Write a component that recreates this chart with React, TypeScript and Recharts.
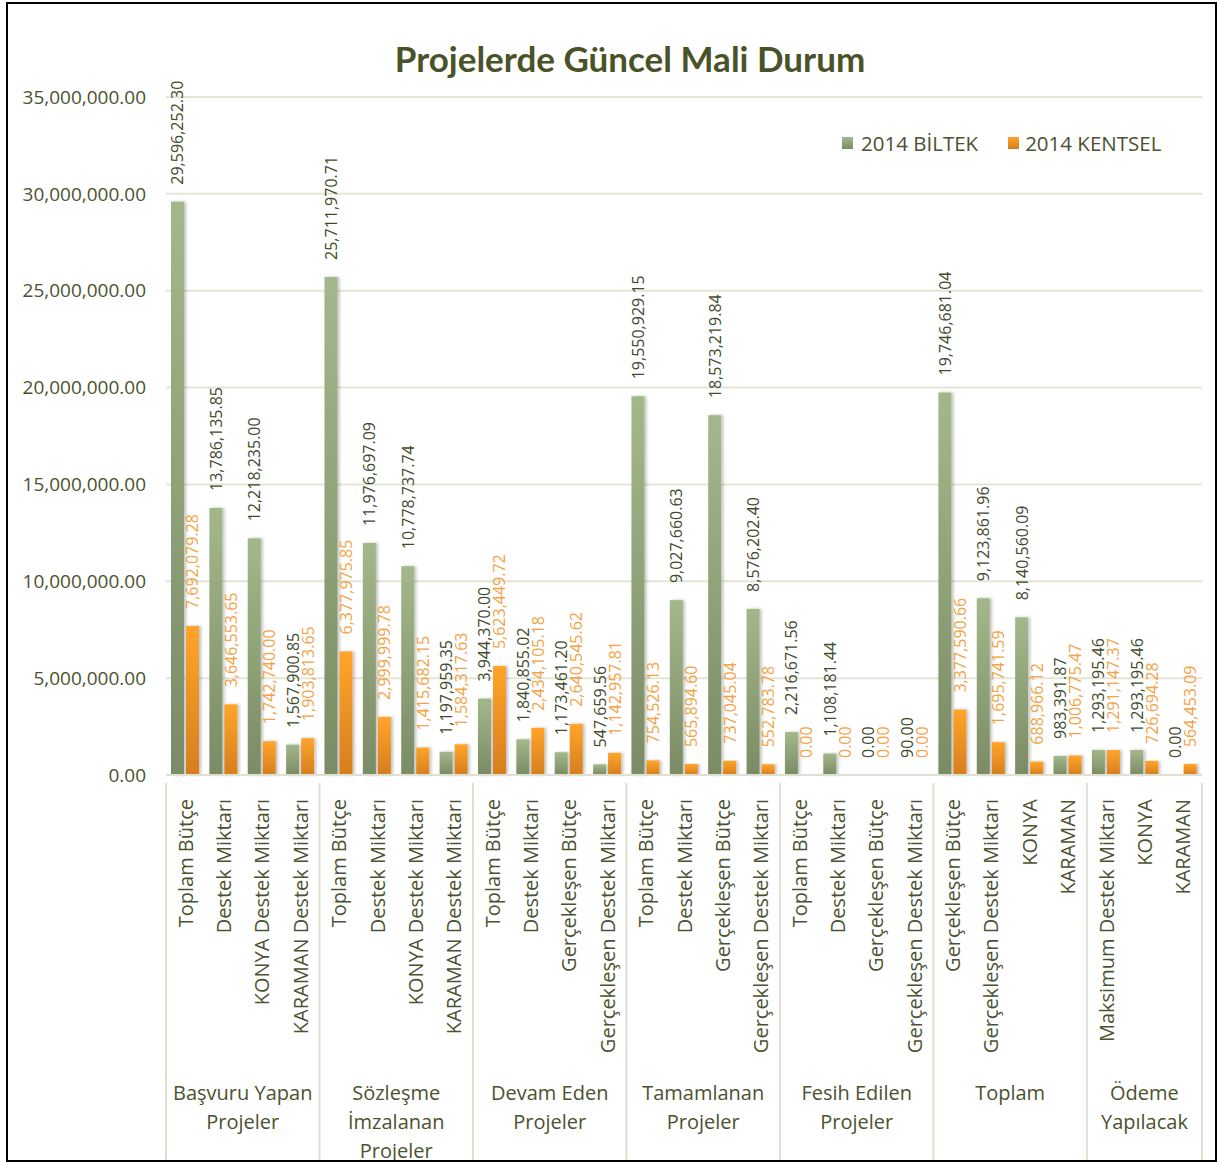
import React from "react";
import { BarChart, Bar, XAxis, YAxis, CartesianGrid } from "recharts";

const categories = [
  "Toplam Bütçe", "Destek Miktarı", "KONYA Destek Miktarı", "KARAMAN Destek Miktarı",
  "Toplam Bütçe", "Destek Miktarı", "KONYA Destek Miktarı", "KARAMAN Destek Miktarı",
  "Toplam Bütçe", "Destek Miktarı", "Gerçekleşen Bütçe", "Gerçekleşen Destek Miktarı",
  "Toplam Bütçe", "Destek Miktarı", "Gerçekleşen Bütçe", "Gerçekleşen Destek Miktarı",
  "Toplam Bütçe", "Destek Miktarı", "Gerçekleşen Bütçe", "Gerçekleşen Destek Miktarı",
  "Gerçekleşen Bütçe", "Gerçekleşen Destek Miktarı", "KONYA", "KARAMAN",
  "Maksimum Destek Miktarı", "KONYA", "KARAMAN",
];

const groupNames = [
  "Başvuru Yapan\nProjeler",
  "Sözleşme\nİmzalanan\nProjeler",
  "Devam Eden\nProjeler",
  "Tamamlanan\nProjeler",
  "Fesih Edilen\nProjeler",
  "Toplam",
  "Ödeme\nYapılacak",
];
const groupSizes = [4, 4, 4, 4, 4, 4, 3];

const biltek = [
  29596252.3, 13786135.85, 12218235.0, 1567900.85,
  25711970.71, 11976697.09, 10778737.74, 1197959.35,
  3944370.0, 1840855.02, 1173461.2, 547659.56,
  19550929.15, 9027660.63, 18573219.84, 8576202.4,
  2216671.56, 1108181.44, 0.0, 90.0,
  19746681.04, 9123861.96, 8140560.09, 983391.87,
  1293195.46, 1293195.46, 0.0,
];
const kentsel = [
  7692079.28, 3646553.65, 1742740.0, 1903813.65,
  6377975.85, 2999999.78, 1415682.15, 1584317.63,
  5623449.72, 2434105.18, 2640545.62, 1142957.81,
  754526.13, 565894.6, 737045.04, 552783.78,
  0.0, 0.0, 0.0, 0.0,
  3377590.66, 1695741.59, 688966.12, 1006775.47,
  1291147.37, 726694.28, 564453.09,
];
const yTicks = [0, 5000000, 10000000, 15000000, 20000000, 25000000, 30000000, 35000000];

const seriesNames = ["2014 BİLTEK", "2014 KENTSEL"];

const data = categories.map((c, i) => ({
  key: `c${i}`,
  cat: c,
  biltek: biltek[i],
  kentsel: kentsel[i],
}));

const groupStart: Record<number, number> = {};
{
  let idx = 0;
  groupSizes.forEach((n, g) => {
    groupStart[idx] = g;
    idx += n;
  });
}

const W = 1217;
const H = 1162;
const M = { top: 97, right: 15, left: 0, bottom: 0 };
const Y_W = 166;
const X_H = 387;
const BAND = (W - M.left - M.right - Y_W) / categories.length;

const FONT = "'Open Sans', 'DejaVu Sans', sans-serif";
const TXT = "#4B5230";
const LINE = "#DEE1CF";

const fmt = (v: number) =>
  v.toLocaleString("en-US", { minimumFractionDigits: 2, maximumFractionDigits: 2 });

const makeShape = (fillId: string, color: string, key: "biltek" | "kentsel") => (props: any) => {
  const x = Number(props.x);
  const y = Number(props.y);
  const width = Number(props.width);
  const height = Math.max(0, Number(props.height) || 0);
  const value = props.payload ? props.payload[key] : props.value;
  const cx = x + width / 2;
  const ty = y - 17;
  return (
    <g>
      {height > 0 && (
        <rect x={x} y={y} width={width} height={height} fill={`url(#${fillId})`} filter="url(#shadow)" />
      )}
      <text
        x={cx}
        y={ty}
        transform={`rotate(-90 ${cx} ${ty})`}
        textAnchor="start"
        dominantBaseline="central"
        fill={color}
        fontSize={16}
        fontFamily={FONT}
      >
        {fmt(Number(value))}
      </text>
    </g>
  );
};

const CatTick = (props: any) => {
  const { x, y, payload } = props;
  const index: number = payload?.index ?? props.index;
  const label = categories[index];
  const top = Number(y) + 16;
  const g = groupStart[index];
  const leftEdge = Number(x) - BAND / 2;
  const isLast = index === categories.length - 1;
  let groupEl = null;
  if (g !== undefined) {
    const gc = leftEdge + (groupSizes[g] * BAND) / 2;
    const lines = groupNames[g].split("\n");
    groupEl = (
      <g>
        {lines.map((ln, i) => (
          <text
            key={i}
            x={gc}
            y={1092 + i * 29}
            textAnchor="middle"
            dominantBaseline="central"
            fill={TXT}
            fontSize={20}
            fontFamily={FONT}
          >
            {ln}
          </text>
        ))}
      </g>
    );
  }
  return (
    <g>
      {g !== undefined && (
        <line x1={leftEdge} y1={Number(y)} x2={leftEdge} y2={H} stroke={LINE} strokeWidth={2} />
      )}
      {isLast && (
        <line x1={Number(x) + BAND / 2} y1={Number(y)} x2={Number(x) + BAND / 2} y2={H} stroke={LINE} strokeWidth={2} />
      )}
      <text
        x={Number(x)}
        y={top}
        transform={`rotate(-90 ${Number(x)} ${top})`}
        textAnchor="end"
        dominantBaseline="central"
        fill={TXT}
        fontSize={20}
        fontFamily={FONT}
      >
        {label}
      </text>
      {groupEl}
    </g>
  );
};

export default function App() {
  return (
    <div style={{ position: "absolute", left: 0, top: 0, width: W, height: H, background: "#fff" }}>
      <BarChart width={W} height={H} data={data} margin={M} barSize={13} barGap={2}>
        <defs>
          <linearGradient id="gGreen" x1="0" y1="0" x2="0" y2="1">
            <stop offset="0%" stopColor="#A3B88A" />
            <stop offset="100%" stopColor="#7B8B65" />
          </linearGradient>
          <linearGradient id="gOrange" x1="0" y1="0" x2="0" y2="1">
            <stop offset="0%" stopColor="#FFA52B" />
            <stop offset="100%" stopColor="#D67E1E" />
          </linearGradient>
          <filter id="shadow" x="-50%" y="-5%" width="200%" height="110%">
            <feDropShadow dx="2" dy="0" stdDeviation="1.5" floodColor="#000" floodOpacity="0.25" />
          </filter>
        </defs>
        <CartesianGrid vertical={false} stroke="#E3E6D5" strokeWidth={2} />
        <XAxis
          dataKey="key"
          interval={0}
          height={X_H}
          tickLine={false}
          axisLine={{ stroke: LINE, strokeWidth: 2 }}
          tick={<CatTick />}
        />
        <YAxis
          width={Y_W}
          domain={[0, 35000000]}
          ticks={yTicks}
          tickFormatter={(v: number) => fmt(v)}
          tickLine={false}
          axisLine={false}
          tickMargin={14}
          tick={{ fill: TXT, fontSize: 19, fontFamily: FONT }}
        />
        <Bar
          dataKey="biltek"
          name={seriesNames[0]}
          fill="#92A77A"
          minPointSize={0}
          shape={makeShape("gGreen", "#404A2C", "biltek")}
          isAnimationActive={false}
        />
        <Bar
          dataKey="kentsel"
          name={seriesNames[1]}
          fill="#F39A2A"
          minPointSize={0}
          shape={makeShape("gOrange", "#F4A244", "kentsel")}
          isAnimationActive={false}
        />
      </BarChart>
      <div
        style={{
          position: "absolute",
          left: 842,
          top: 130,
          display: "flex",
          alignItems: "center",
          fontFamily: FONT,
          fontSize: 20.5,
          color: TXT,
          lineHeight: "26px",
          whiteSpace: "nowrap",
        }}
      >
        <span style={{ display: "inline-block", width: 11, height: 12, background: "linear-gradient(#A3B88A, #7B8B65)", marginRight: 8 }} />
        <span style={{ marginRight: 30 }}>{seriesNames[0]}</span>
        <span style={{ display: "inline-block", width: 11, height: 12, background: "linear-gradient(#FFA52B, #D67E1E)", marginRight: 6 }} />
        <span>{seriesNames[1]}</span>
      </div>
      <div
        style={{
          position: "absolute",
          left: 0,
          width: 1260,
          top: 36,
          textAlign: "center",
          fontFamily: "Lato, 'Open Sans', sans-serif",
          fontWeight: 700,
          fontSize: 35,
          color: "#4A5228",
          lineHeight: "44px",
          pointerEvents: "none",
        }}
      >
        Projelerde Güncel Mali Durum
      </div>
      <div
        style={{
          position: "absolute",
          left: 6,
          top: 2,
          width: 1207,
          height: 1156,
          border: "2px solid #000",
          pointerEvents: "none",
        }}
      />
    </div>
  );
}
